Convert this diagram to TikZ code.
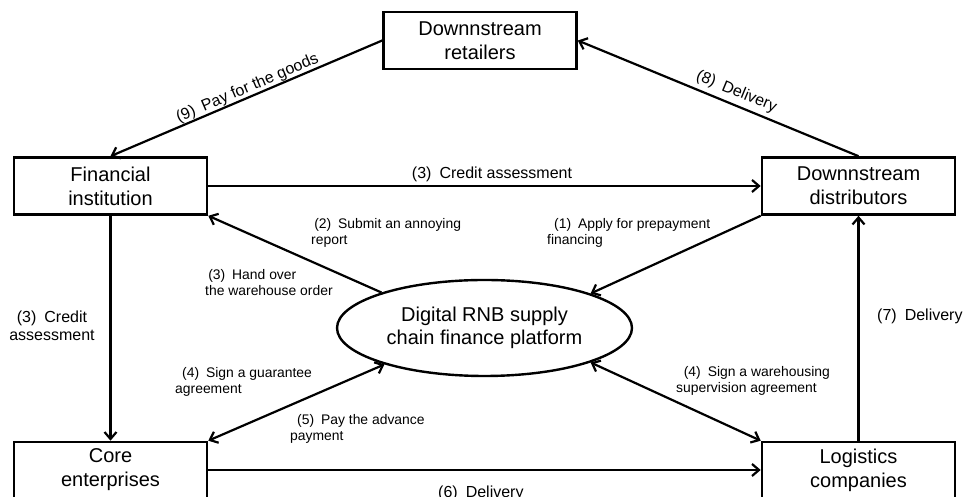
\documentclass[tikz,border=0pt]{standalone}
\usepackage{fontspec}
\setmainfont{Liberation Sans}
\usetikzlibrary{arrows.meta,shapes.geometric}
\begin{document}
\begin{tikzpicture}[x=1pt,y=1pt,
  box/.style={draw, line width=2.6pt, minimum width=193pt, minimum height=57pt, align=center, inner sep=0pt, font=\fontsize{20}{24}\selectfont},
  platstyle/.style={ellipse, draw, line width=2.4pt, minimum width=295pt, minimum height=96pt, align=center, inner sep=0pt, font=\fontsize{20}{23}\selectfont},
  arr/.style={line width=2.2pt, -{Straight Barb[length=7pt,width=12pt]}},
  darr/.style={line width=2.2pt, {Straight Barb[length=7pt,width=12pt]}-{Straight Barb[length=7pt,width=12pt]}},
  small/.style={inner sep=0pt, align=left, font=\fontsize{13.9}{16}\selectfont},
  mid/.style={inner sep=0pt, font=\fontsize{16}{18}\selectfont},
]
\useasboundingbox (0,0) rectangle (964,497);
% boxes
\node[box] (ret) at (480,456.5) {Downnstream\\retailers};
\node[box] (fin) at (110.5,311) {Financial\\institution};
\node[box] (dis) at (858.5,311) {Downnstream\\distributors};
\node[box, minimum height=56pt] (core) at (110.5,27) {Core\\enterprises};
\node[box, minimum height=56pt] (log) at (858.5,27) {Logistics\\companies};
\node[platstyle] (plat) at (484.5,169) {Digital RNB supply\\chain finance platform};
% connectors
\draw[arr] (ret.west) -- (fin.north);
\draw[arr] (dis.north) -- (ret.east);
\draw[arr] (fin.east) -- (dis.west);
\draw[arr] (fin.south) -- (core.north);
\draw[arr] (plat.161) -- (fin.south east);
\draw[arr] (dis.south west) -- (plat.18);
\draw[darr] (core.north east) -- (plat.200);
\draw[darr] (plat.342) -- (log.north west);
\draw[arr] (core.east) -- (log.west);
\draw[arr] (log.north) -- (dis.south);
% labels
\node[small, anchor=base west] (l2) at (311,252) {\hspace*{0.22em}(2)\hspace{0.5em}Submit an annoying\\report};
\node[small, anchor=base west] (l1) at (547,252) {\hspace*{0.5em}(1)\hspace{0.5em}Apply for prepayment\\financing};
\node[small, anchor=base west] (l3h) at (205,201) {\hspace*{0.22em}(3)\hspace{0.5em}Hand over\\the warehouse order};
\node[small, anchor=base west] (l4g) at (175,103) {\hspace*{0.5em}(4)\hspace{0.5em}Sign a guarantee\\agreement};
\node[small, anchor=base west] (l5) at (290,56) {\hspace*{0.5em}(5)\hspace{0.5em}Pay the advance\\payment};
\node[small, anchor=base west] (l4w) at (676,104) {\hspace*{0.55em}(4)\hspace{0.5em}Sign a warehousing\\supervision agreement};
\node[mid, align=center, anchor=base] (l3l) at (52,156) {(3)\hspace{0.5em}Credit\\assessment};
\node[mid, anchor=base] (l3t) at (492,318) {(3)\hspace{0.5em}Credit assessment};
\node[mid, anchor=base west] (l7) at (877,176) {(7)\hspace{0.5em}Delivery};
\node[mid, anchor=base west] (l6) at (438,-1) {(6)\hspace{0.5em}Delivery};
\node[mid, rotate=23.2] (l9) at (247.5,408.5) {(9)\hspace{0.5em}Pay for the goods};
\node[mid, rotate=-22.4] (l8) at (736.5,405) {(8)\hspace{0.5em}Delivery};
\end{tikzpicture}
\end{document}
